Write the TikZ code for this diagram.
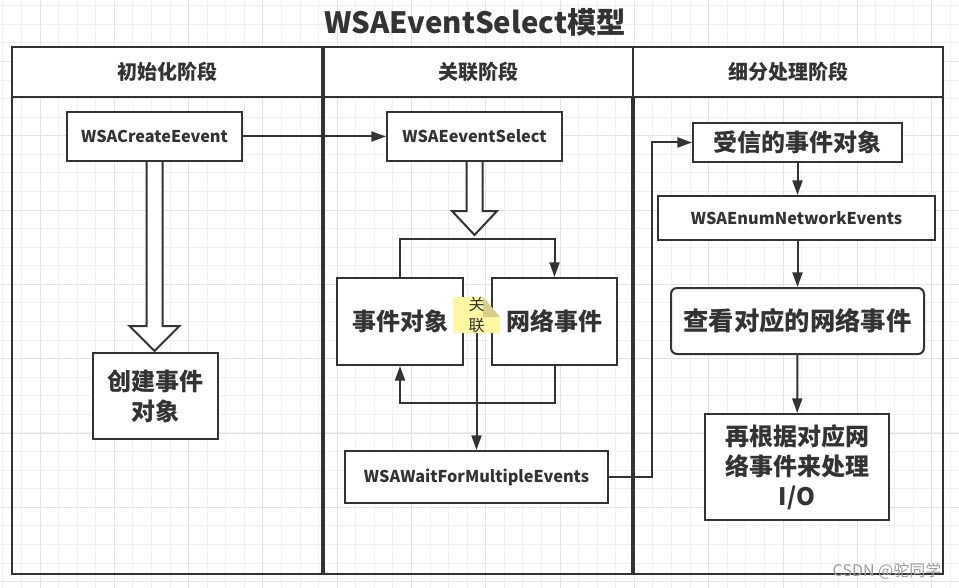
\documentclass[tikz,border=0pt]{standalone}
\usepackage{fontspec}
\setmainfont{Noto Sans CJK SC}
\usepackage{tikz}
\usetikzlibrary{arrows.meta}
\usetikzlibrary{positioning}
\definecolor{ink}{HTML}{333333}
\definecolor{notebg}{HTML}{FFF7A1}
\definecolor{notefold}{HTML}{D6D08A}
\tikzstyle{every node}+=[inner sep=0pt]
\tikzstyle{block} = [rectangle, draw=ink, fill=white, text=ink, line width=1.5pt, font=\fontsize{12.2}{15}\selectfont\bfseries, text centered, minimum width=131.25pt, minimum height=36.75pt]
\tikzstyle{bigbox} = [block, font=\fontsize{18}{22.5}\selectfont\bfseries, align=center]
\tikzstyle{line} = [draw=ink, line width=1.5pt, -{Triangle[length=11pt,width=7.5pt]}]
\tikzstyle{hollow} = [draw=ink, fill=white, line width=1.5pt, line join=miter]
\tikzstyle{lane} = [draw=ink, line width=1.5pt]
\tikzstyle{lanetitle} = [text=ink, font=\fontsize{15}{18}\selectfont\bfseries]
\tikzstyle{minorgrid} = [draw=black!6, line width=0.75pt]
\tikzstyle{majorgrid} = [draw=black!11, line width=0.75pt]
\tikzstyle{stickynote} = [minimum width=35.25pt, minimum height=27pt, text=ink, font=\fontsize{12}{15.75}\selectfont, align=center,
  path picture={
    \fill[notebg] (path picture bounding box.north west) -- ([xshift=-12.75pt]path picture bounding box.north east)
      -- ([yshift=-15pt]path picture bounding box.north east) -- (path picture bounding box.south east)
      -- (path picture bounding box.south west) -- cycle;
    \fill[notefold] ([xshift=-12.75pt]path picture bounding box.north east) -- ([yshift=-15pt]path picture bounding box.north east)
      -- ([xshift=-12.75pt,yshift=-15pt]path picture bounding box.north east) -- cycle;}]

\begin{document}
\begin{tikzpicture}[x=0.75pt, y=-0.75pt]
            \useasboundingbox (0,0) rectangle (959,588);
            \fill[white] (0,0) rectangle (959,588);
            % Grid
            \foreach \i in {0,...,51} \draw[minorgrid] (2.85+18.575*\i,0) -- (2.85+18.575*\i,588);
            \foreach \i in {0,...,31} \draw[minorgrid] (0,5.76+18.575*\i) -- (959,5.76+18.575*\i);
            \foreach \i in {0,...,12} \draw[majorgrid] (40+74.3*\i,0) -- (40+74.3*\i,588);
            \foreach \i in {0,...,7} \draw[majorgrid] (0,61.5+74.3*\i) -- (959,61.5+74.3*\i);
            % Lanes
            \fill[white] (12,47) rectangle (943,97);
            \draw[lane] (12,47) rectangle (943,574);
            \draw[lane] (12,97) -- (943,97);
            \draw[lane, line width=2.6pt] (323,47) -- (323,574);
            \draw[lane] (633,47) -- (633,97);
            \draw[lane, line width=2.6pt] (633,97) -- (633,574);
            \node [text=ink, font=\fontsize{22}{27}\selectfont\bfseries] (title) at (475,22) {WSAEventSelect模型};
            \node [lanetitle] (lane1) at (167.5,72) {初始化阶段};
            \node [lanetitle] (lane2) at (478,72) {关联阶段};
            \node [lanetitle] (lane3) at (788,72) {细分处理阶段};
            % Place nodes
            \node [block] (create) at (154.5,136.5) {WSACreateEevent};
            \node [block, right of=create, node distance=240pt] (select) {WSAEeventSelect};
            \node [bigbox, minimum width=93.75pt, minimum height=64.5pt] (objinit) at (155.5,396) {创建事件\\对象};
            \node [bigbox, minimum width=94.5pt, minimum height=65.25pt] (evobj) at (400,321.5) {事件对象};
            \node [bigbox, minimum width=93.75pt, minimum height=65.25pt, right of=evobj, node distance=115.875pt] (netev) {网络事件};
            \node [stickynote] (assoc) at (476.5,315) {关\\联};
            \node [block, minimum width=197.25pt, minimum height=39pt] (wait) at (476.5,477) {WSAWaitForMultipleEvents};
            \node [bigbox, minimum width=156.75pt, minimum height=29.25pt] (recv) at (797.5,142.5) {受信的事件对象};
            \node [block, minimum width=207.75pt, minimum height=33pt] (enumnet) at (796.5,218) {WSAEnumNetworkEvents};
            \node [bigbox, rounded corners=4.5pt, minimum width=189.75pt, minimum height=49.5pt, font=\fontsize{19}{23}\selectfont\bfseries] (check) at (797.5,321) {查看对应的网络事件};
            \node [bigbox, minimum width=138pt, minimum height=79.5pt] (handle) at (797,467) {再根据对应网\\络事件来处理\\I/O};
            \node [text=black!38, font=\fontsize{12}{14}\selectfont] (mark) at (887,571) {CSDN @驼同学};
            % Draw edges
            \path [line] (create) -- (select);
            \path [hollow] ([xshift=-6pt]create.south) -- ++(0,164) -- ++(-17,0) -- ++(25,25) -- ++(25,-25) -- ++(-17,0) -- ([xshift=6pt]create.south);
            \path [hollow] ([xshift=-6pt]select.south) -- ++(0,49) -- ++(-14.5,0) -- ++(22.5,24) -- ++(22.5,-24) -- ++(-14.5,0) -- ([xshift=6pt]select.south);
            \path [line] (evobj.north) -- ++(0,-38) -| (netev.north);
            \path [line] (netev.south) -- ++(0,37) -| (evobj.south);
            \path [line] (assoc.south) -- (wait.north);
            \path [line] (wait.east) -- ++(43,0) |- (recv.west);
            \path [line] (recv.south) -- (recv.south |- enumnet.north);
            \path [line] (enumnet.south -| check.north) -- (check.north);
            \path [line] (check) -- (handle);
          \end{tikzpicture}
\end{document}
